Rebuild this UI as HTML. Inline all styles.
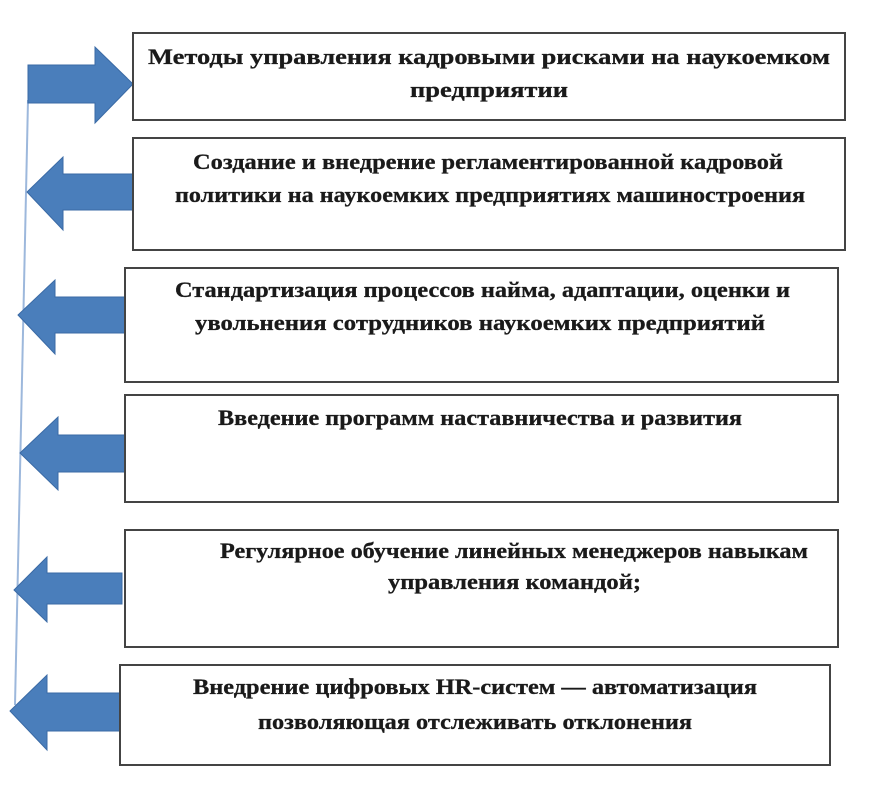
<!DOCTYPE html>
<html><head><meta charset="utf-8"><style>html,body{margin:0;padding:0;background:#fff}svg{display:block}</style></head>
<body>
<svg width="874" height="798" viewBox="0 0 874 798" xmlns="http://www.w3.org/2000/svg">
<line x1="28" y1="100" x2="15" y2="705" stroke="#9db8dc" stroke-width="2"/>
<g fill="#4a7ebb" stroke="#3a6aa5" stroke-width="1">
<polygon points="28,65 95,65 95,47 133,84 95,123 95,103 28,103"/>
<polygon points="133,174 63,174 63,157 27,192 63,230 63,210 133,210"/>
<polygon points="125,297 55,297 55,280 18,315 55,354 55,333 125,333"/>
<polygon points="128,435 58,435 58,417 20,453 58,490 58,472 128,472"/>
<polygon points="122,573 47,573 47,557 14,590 47,622 47,604 122,604"/>
<polygon points="120,693 47,693 47,675 10,711 47,750 47,731 120,731"/>
</g>
<g fill="#fff" stroke="#444" stroke-width="2">
<rect x="133" y="33" width="712" height="87"/>
<rect x="133" y="138" width="712" height="112"/>
<rect x="125" y="268" width="713" height="114"/>
<rect x="125" y="395" width="713" height="107"/>
<rect x="125" y="530" width="713" height="117"/>
<rect x="120" y="665" width="710" height="100"/>
</g>
<g font-family="Liberation Serif, serif" font-weight="bold" font-size="22" fill="#1a1a1a" stroke="#1a1a1a" stroke-width="0.3">
<text x="148" y="64" textLength="682" lengthAdjust="spacingAndGlyphs">Методы управления кадровыми рисками на наукоемком</text>
<text x="410" y="97" textLength="158" lengthAdjust="spacingAndGlyphs">предприятии</text>
<text x="193" y="169" textLength="590" lengthAdjust="spacingAndGlyphs">Создание и внедрение регламентированной кадровой</text>
<text x="175" y="202" textLength="630" lengthAdjust="spacingAndGlyphs">политики на наукоемких предприятиях машиностроения</text>
<text x="175" y="297" textLength="615" lengthAdjust="spacingAndGlyphs">Стандартизация процессов найма, адаптации, оценки и</text>
<text x="195" y="330" textLength="570" lengthAdjust="spacingAndGlyphs">увольнения сотрудников наукоемких предприятий</text>
<text x="218" y="425" textLength="524" lengthAdjust="spacingAndGlyphs">Введение программ наставничества и развития</text>
<text x="220" y="558" textLength="588" lengthAdjust="spacingAndGlyphs">Регулярное обучение линейных менеджеров навыкам</text>
<text x="388" y="589" textLength="253" lengthAdjust="spacingAndGlyphs">управления командой;</text>
<text x="193" y="694" textLength="564" lengthAdjust="spacingAndGlyphs">Внедрение цифровых HR-систем — автоматизация</text>
<text x="258" y="729" textLength="434" lengthAdjust="spacingAndGlyphs">позволяющая отслеживать отклонения</text>
</g>
</svg>
</body></html>
